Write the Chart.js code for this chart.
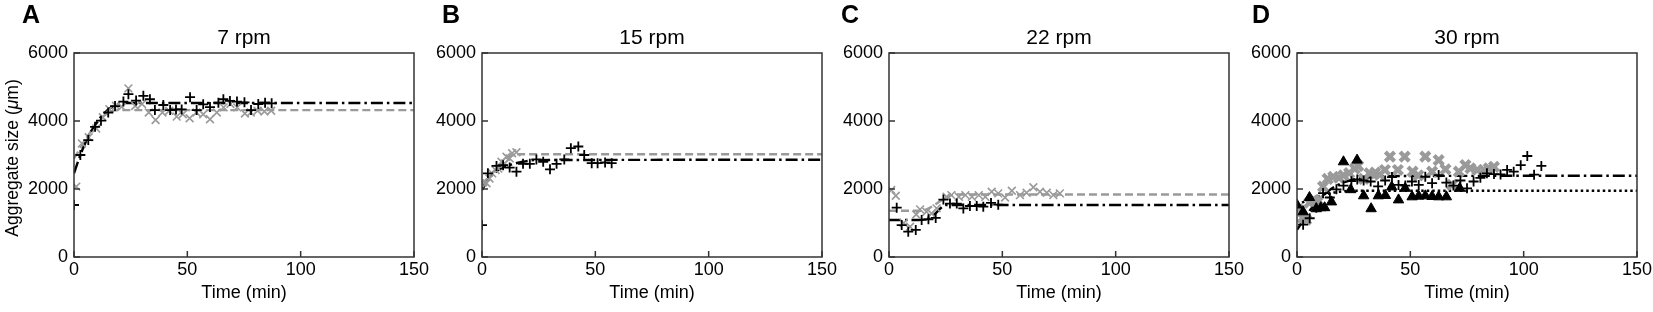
<!DOCTYPE html>
<html>
<head>
<meta charset="utf-8">
<script src="https://cdn.jsdelivr.net/npm/chart.js@4.4.1/dist/chart.umd.min.js"></script>
<style>
	html, body { margin: 0; padding: 0; background: #fff; overflow: hidden; }
	#wrap { position: relative; width: 1653px; height: 312px; overflow: hidden; }
	.panel { position: absolute; top: 0; width: 439px; height: 312px; }
	.letter { position: absolute; top: 2px; font: bold 25px "Liberation Sans", Arial, sans-serif; line-height: 25px; color: #000; }
</style>
</head>
<body>
<div id="wrap">
	<div class="panel" style="left:0px"><canvas id="chartA"></canvas></div>
	<div class="panel" style="left:408px"><canvas id="chartB"></canvas></div>
	<div class="panel" style="left:815px"><canvas id="chartC"></canvas></div>
	<div class="panel" style="left:1223px"><canvas id="chartD"></canvas></div>
	<div class="letter" style="left:22px">A</div>
	<div class="letter" style="left:442px">B</div>
	<div class="letter" style="left:841px">C</div>
	<div class="letter" style="left:1252px">D</div>
</div>
<script>
(() => {
	'use strict'

	// values: [time (min), aggregate size (µm)]
	const titles = ['7 rpm', '15 rpm', '22 rpm', '30 rpm'];
	const xTicks = [0, 50, 100, 150];
	const yTicks = [0, 2000, 4000, 6000];

	const plusA = [[0, 1530], [2.8, 3000], [6.3, 3440], [9.3, 3830], [11.9, 4010], [15.1, 4250], [18.1, 4440], [21.8, 4570], [24, 4790], [27.4, 4600], [30.6, 4740], [33.5, 4640], [35.7, 4320], [39.4, 4470], [42.4, 4320], [45, 4340], [47.5, 4340], [51.2, 4700], [54.1, 4320], [57, 4490], [60, 4410], [63.7, 4540], [65.9, 4640], [68.8, 4590], [71.9, 4570], [75.2, 4550], [78.1, 4320], [81.3, 4500], [84.3, 4540], [87.2, 4520]];
	const crossA = [[1, 2070], [3.5, 3340], [6.5, 3520], [9.8, 3780], [12.7, 4110], [15.6, 4350], [18.5, 4450], [21, 4420], [24, 4960], [27, 4440], [30, 4500], [33, 4250], [36, 4030], [39, 4250], [42, 4300], [45.3, 4130], [48, 4200], [51, 4080], [54, 4250], [57, 4200], [60, 4050], [63, 4250], [66, 4400], [69, 4500], [72, 4400], [75.4, 4220], [78, 4250], [81, 4300], [84, 4280], [87, 4300]];
	const fitBlackA = [[0, 2460], [2, 2850], [4, 3200], [6, 3500], [8, 3750], [10, 3950], [12, 4130], [14, 4270], [16, 4380], [18, 4460], [20, 4510], [23, 4530], [150, 4530]];
	const fitGrayA = [[0, 2900], [4, 3330], [8, 3750], [12, 4080], [16, 4270], [20, 4320], [150, 4320]];

	const plusB = [[0, 940], [2.6, 2460], [6.4, 2680], [9.3, 2700], [12.2, 2630], [15.2, 2510], [18.1, 2740], [21.1, 2740], [24, 2870], [27, 2800], [30, 2580], [32.9, 2740], [36.3, 2870], [39.2, 3200], [42.5, 3250], [45.1, 3000], [48.4, 2760], [51, 2760], [54.3, 2780], [57.2, 2760]];
	const crossB = [[0.5, 2200], [2, 2170], [3.3, 2310], [4.5, 2460], [6, 2560], [7.2, 2600], [8.6, 2800], [10, 2750], [10.8, 2950], [12.2, 2900], [13.3, 3050], [15.2, 3080]];
	const fitBlackB = [[0, 1970], [2, 2200], [4, 2380], [6, 2500], [8, 2590], [10, 2650], [14, 2740], [18, 2800], [24, 2850], [150, 2860]];
	const fitGrayB = [[0, 2100], [3, 2350], [6, 2580], [9, 2780], [12, 2930], [15, 3020], [150, 3020]];

	const plusC = [[3.4, 1450], [5.6, 940], [8.5, 745], [11.8, 795], [14.4, 1090], [17.4, 1110], [20.6, 1150], [24, 1690], [26.9, 1570], [29.9, 1570], [32.8, 1430], [35.7, 1500], [38.7, 1500], [41.6, 1480], [45, 1590], [48.2, 1540]];
	const crossC = [[1, 1970], [3, 1800], [6.5, 1000], [9.3, 890], [12, 1250], [13.7, 1400], [16.5, 1330], [18.8, 1280], [21, 1430], [25.4, 1770], [27.5, 1820], [30.8, 1770], [33.7, 1820], [36.6, 1770], [39.6, 1820], [42.5, 1770], [45.3, 1920], [48.2, 1870], [51.2, 1750], [54.2, 1950], [57.8, 1820], [60.7, 1890], [63.7, 2050], [66.6, 1920], [69.6, 1890], [72.5, 1820], [75.4, 1870]];
	const fitBlackC = [[0, 1090], [13, 1090], [17, 1130], [20, 1250], [23, 1450], [25, 1530], [150, 1530]];
	const fitGrayC = [[0, 1360], [14, 1360], [18, 1450], [22, 1620], [26, 1780], [30, 1840], [150, 1840]];

	const plusD = [[2.7, 950], [5.6, 1140], [8.5, 1450], [11.5, 1880], [14.5, 1750], [17.4, 1990], [20.5, 2100], [24, 2230], [26.6, 2280], [29.4, 2250], [32.5, 2220], [35.8, 2080], [38.9, 2250], [41.9, 2350], [44.8, 2120], [47.8, 2100], [50.7, 2220], [53.7, 2120], [56.6, 2360], [59.6, 2170], [62.5, 2410], [65.9, 2190], [69, 2100], [72.1, 2250], [75, 2020], [77.9, 2220], [80.9, 2330], [83.8, 2460], [86.9, 2440], [89.8, 2430], [92.7, 2560], [95.6, 2510], [98.7, 2700], [101.6, 2970], [104.6, 2420], [107.8, 2680]];
	const crossD = [[0.5, 1400], [2.5, 1150], [4, 1100], [5.5, 1600], [7.5, 1680], [9.5, 1650], [11.5, 2070], [13.5, 2300], [16, 2360], [18.5, 2330], [20.5, 2400], [23, 2470], [25.5, 2600], [27, 2680], [29.5, 2300], [32, 2460], [34.5, 2480], [36.5, 2420], [38.8, 2560], [41, 2950], [44.5, 2560], [47.5, 2950], [51, 2510], [53.5, 2400], [56.6, 2950], [59.6, 2510], [62.5, 2850], [65.5, 2580], [68.4, 2120], [71.4, 2510], [74.3, 2700], [76.5, 2610], [79.5, 2560], [82.4, 2560], [84.6, 2610], [86.9, 2650]];
	const triD = [[0, 1530], [2.7, 1330], [5.5, 1750], [8.5, 1420], [10.5, 1450], [12.2, 1450], [15.2, 1620], [20.5, 2800], [23.7, 1980], [26.5, 2850], [29.4, 1800], [32.7, 1420], [35.9, 1800], [39, 1810], [41.8, 2060], [44.8, 1680], [47.7, 2020], [50.8, 1770], [53.7, 1790], [56.6, 1800], [59.6, 1780], [62.5, 1770], [65.9, 1770], [71.8, 2020]];
	const fitBlackD = [[0, 800], [3, 1100], [6, 1400], [10, 1700], [15, 2000], [20, 2180], [25, 2280], [30, 2330], [40, 2380], [150, 2390]];
	const fitDotD = [[0, 1530], [5, 1680], [10, 1800], [15, 1880], [20, 1930], [25, 1950], [150, 1950]];

	const fontFamily = '"Liberation Sans", Arial, Helvetica, sans-serif';
	const gray = '#9a9a9a';

	function toPoints(pairs) {
		return pairs.map(([x, y]) => ({ x, y }));
	}

	function plusSet(pairs) {
		return { data: toPoints(pairs), showLine: false, pointStyle: 'cross', pointRadius: 5, pointBorderWidth: 1.8, borderColor: '#000', backgroundColor: '#000', order: 0 };
	}

	function crossSet(pairs, heavy) {
		return { data: toPoints(pairs), showLine: false, pointStyle: 'crossRot', pointRadius: heavy ? 6.5 : 5.5, pointBorderWidth: heavy ? 4.2 : 1.6, borderColor: gray, backgroundColor: gray, order: 1 };
	}

	function triangleSet(pairs) {
		return { data: toPoints(pairs), showLine: false, pointStyle: 'triangle', pointRadius: 6, pointBorderWidth: 1, borderColor: '#000', backgroundColor: '#000', order: 0 };
	}

	function fitSet(pairs, color, dash) {
		return { data: toPoints(pairs), showLine: true, pointRadius: 0, borderColor: color, borderWidth: 2.4, borderDash: dash, cubicInterpolationMode: 'monotone', fill: false, order: 2 };
	}

	const dashDot = [12, 4, 2.5, 4];
	const dashed = [8, 4];
	const dotted = [2.5, 3];

	const frameAndTicks = {
		id: 'frameAndTicks',
		afterDatasetsDraw(chart) {
			const { ctx, chartArea: a, scales: { x, y } } = chart;
			ctx.save();
			ctx.strokeStyle = '#333';
			ctx.lineWidth = 1.5;
			ctx.setLineDash([]);
			ctx.strokeRect(a.left, a.top, a.right - a.left, a.bottom - a.top);
			ctx.beginPath();
			xTicks.forEach((v) => {
				const px = x.getPixelForValue(v);
				ctx.moveTo(px, a.bottom);
				ctx.lineTo(px, a.bottom - 6);
			});
			yTicks.forEach((v) => {
				const py = y.getPixelForValue(v);
				ctx.moveTo(a.left, py);
				ctx.lineTo(a.left + 6, py);
			});
			ctx.stroke();
			ctx.restore();
		}
	};

	const yTitle = {
		id: 'yTitle',
		afterDraw(chart) {
			const { ctx, chartArea: a } = chart;
			const parts = [['Aggregate size (', ''], ['\u03bc', 'italic '], ['m)', '']];
			ctx.save();
			ctx.translate(13, (a.top + a.bottom) / 2 + 3);
			ctx.rotate(-Math.PI / 2);
			ctx.fillStyle = '#000';
			ctx.textBaseline = 'middle';
			ctx.textAlign = 'left';
			let total = 0;
			parts.forEach(([text, style]) => {
				ctx.font = `${style}17.5px ${fontFamily}`;
				total += ctx.measureText(text).width;
			});
			let pos = -total / 2;
			parts.forEach(([text, style]) => {
				ctx.font = `${style}17.5px ${fontFamily}`;
				ctx.fillText(text, pos, 0);
				pos += ctx.measureText(text).width;
			});
			ctx.restore();
		}
	};

	function makePanel(canvasId, title, datasets, extraPlugins) {
		return new Chart(document.getElementById(canvasId), {
			type: 'scatter',
			data: { datasets },
			options: {
				responsive: true,
				maintainAspectRatio: false,
				animation: false,
				layout: { padding: { left: 0, right: 25, top: 0, bottom: 0 } },
				plugins: {
					legend: { display: false },
					tooltip: { enabled: false },
					title: {
						display: true,
						text: title,
						fullSize: false,
						color: '#000',
						font: { family: fontFamily, size: 21, weight: 'normal', lineHeight: 1.2 },
						padding: { top: 25.4, bottom: 2.4 }
					}
				},
				scales: {
					x: {
						type: 'linear',
						min: 0,
						max: 150,
						afterBuildTicks: (scale) => { scale.ticks = xTicks.map((value) => ({ value })); },
						grid: { display: false, drawTicks: false },
						border: { display: false },
						ticks: { color: '#000', padding: 2, maxRotation: 0, font: { family: fontFamily, size: 18 }, callback: (value) => String(value) },
						title: { display: true, text: 'Time (min)', color: '#000', font: { family: fontFamily, size: 18, lineHeight: 1.2 }, padding: { top: 0, bottom: 8 } },
						afterFit: (scale) => { scale.height = 55; }
					},
					y: {
						type: 'linear',
						min: 0,
						max: 6000,
						afterBuildTicks: (scale) => { scale.ticks = yTicks.map((value) => ({ value })); },
						grid: { display: false, drawTicks: false },
						border: { display: false },
						ticks: { color: '#000', padding: 6, font: { family: fontFamily, size: 18 }, callback: (value) => String(value) },
						afterFit: (scale) => { scale.width = 74; }
					}
				}
			},
			plugins: [frameAndTicks, ...(extraPlugins || [])]
		});
	}

	makePanel('chartA', titles[0], [
		plusSet(plusA),
		crossSet(crossA, false),
		fitSet(fitBlackA, '#000', dashDot),
		fitSet(fitGrayA, gray, dashed)
	], [yTitle]);

	makePanel('chartB', titles[1], [
		plusSet(plusB),
		crossSet(crossB, false),
		fitSet(fitBlackB, '#000', dashDot),
		fitSet(fitGrayB, gray, dashed)
	]);

	makePanel('chartC', titles[2], [
		plusSet(plusC),
		crossSet(crossC, false),
		fitSet(fitBlackC, '#000', dashDot),
		fitSet(fitGrayC, gray, dashed)
	]);

	makePanel('chartD', titles[3], [
		plusSet(plusD),
		triangleSet(triD),
		crossSet(crossD, true),
		fitSet(fitBlackD, '#000', dashDot),
		fitSet(fitDotD, '#000', dotted)
	]);
})()
</script>
</body>
</html>
